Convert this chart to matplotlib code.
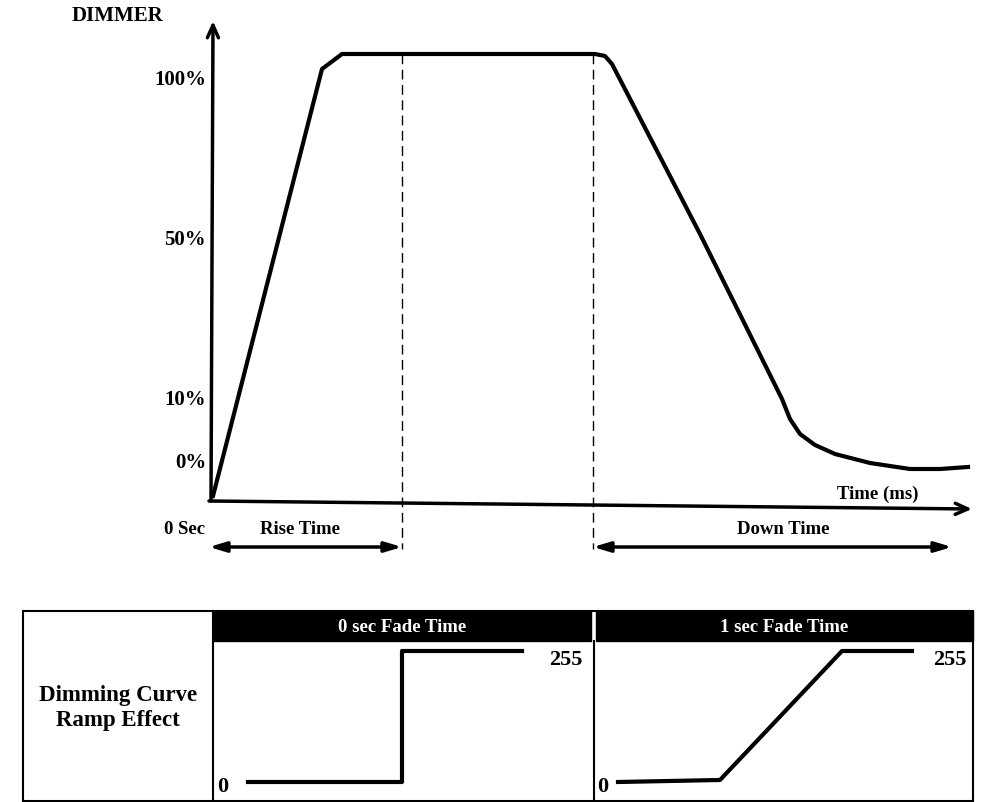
import matplotlib.pyplot as plt
from matplotlib.patches import Rectangle

plt.rcParams['font.family'] = ['Liberation Serif', 'DejaVu Serif']

# dimmer curve (pixel space of the diagram)
curve_x = [213, 322, 342, 595, 605, 612, 700, 782, 790, 800, 815, 835, 870, 910, 940, 968]
curve_y = [497, 70, 55, 55, 57, 65, 235, 400, 420, 435, 446, 455, 464, 470, 470, 468]

y_tick_labels = ['100%', '50%', '10%', '0%']
y_tick_pos = [80, 240, 400, 463]

rise_end = 402
down_start = 593

# ramp panels
step_x = [248, 402, 402, 522]
step_y = [783, 783, 652, 652]
fade_x = [618, 720, 842, 912]
fade_y = [783, 781, 652, 652]

fig = plt.figure(figsize=(9.84, 8.03), dpi=100)
ax = fig.add_axes([0, 0, 1, 1])
ax.set_xlim(0, 984)
ax.set_ylim(803, 0)
ax.axis('off')

bold = dict(fontweight='bold', color='black')
arr = dict(lw=2.5, color='black', shrinkA=0, shrinkB=0)

# axes with arrows
ax.annotate('', xy=(213, 22), xytext=(211, 502),
            arrowprops=dict(arrowstyle='->,head_width=0.4,head_length=0.9', **arr))
ax.annotate('', xy=(972, 510), xytext=(209, 502),
            arrowprops=dict(arrowstyle='->,head_width=0.4,head_length=0.9', **arr))

ax.plot(curve_x, curve_y, color='black', lw=3, solid_joinstyle='round')

for x in (rise_end, down_start):
    ax.plot([x, x], [55, 550], color='black', lw=1, ls=(0, (7, 4)))

ax.annotate('', xy=(209, 548), xytext=(rise_end, 548),
            arrowprops=dict(arrowstyle='<|-|>,head_width=0.3,head_length=1.0', **arr))
ax.annotate('', xy=(down_start, 548), xytext=(952, 548),
            arrowprops=dict(arrowstyle='<|-|>,head_width=0.3,head_length=1.0', **arr))

ax.text(117, 16, 'DIMMER', fontsize=15, ha='center', va='center', **bold)
for lab, y in zip(y_tick_labels, y_tick_pos):
    ax.text(206, y, lab, fontsize=15, ha='right', va='center', **bold)
ax.text(185, 530, '0 Sec', fontsize=13.5, ha='center', va='center', **bold)
ax.text(300, 530, 'Rise Time', fontsize=13.5, ha='center', va='center', **bold)
ax.text(783, 530, 'Down Time', fontsize=13.5, ha='center', va='center', **bold)
ax.text(878, 494, 'Time (ms)', fontsize=13.5, ha='center', va='center', **bold)

# bottom table
ax.add_patch(Rectangle((23, 612), 950, 190, fill=False, lw=1.5, color='black'))
ax.add_patch(Rectangle((213, 612), 378, 30, color='black'))
ax.add_patch(Rectangle((596, 612), 377, 30, color='black'))
ax.plot([213, 213], [612, 802], color='black', lw=1.5)
ax.plot([593.5, 593.5], [642, 802], color='black', lw=1.5)
ax.text(402, 628, '0 sec Fade Time', fontsize=13.5, ha='center', va='center', color='white', fontweight='bold')
ax.text(784, 628, '1 sec Fade Time', fontsize=13.5, ha='center', va='center', color='white', fontweight='bold')
ax.text(118, 708, 'Dimming Curve\nRamp Effect', fontsize=16.5, ha='center', va='center',
        linespacing=1.3, **bold)

ax.plot(step_x, step_y, color='black', lw=3)
ax.plot(fade_x, fade_y, color='black', lw=3)
ax.text(566, 660, '255', fontsize=16, ha='center', va='center', **bold)
ax.text(950, 660, '255', fontsize=16, ha='center', va='center', **bold)
ax.text(223, 787, '0', fontsize=16, ha='center', va='center', **bold)
ax.text(603, 787, '0', fontsize=16, ha='center', va='center', **bold)

fig.savefig('out.png', dpi=100)
